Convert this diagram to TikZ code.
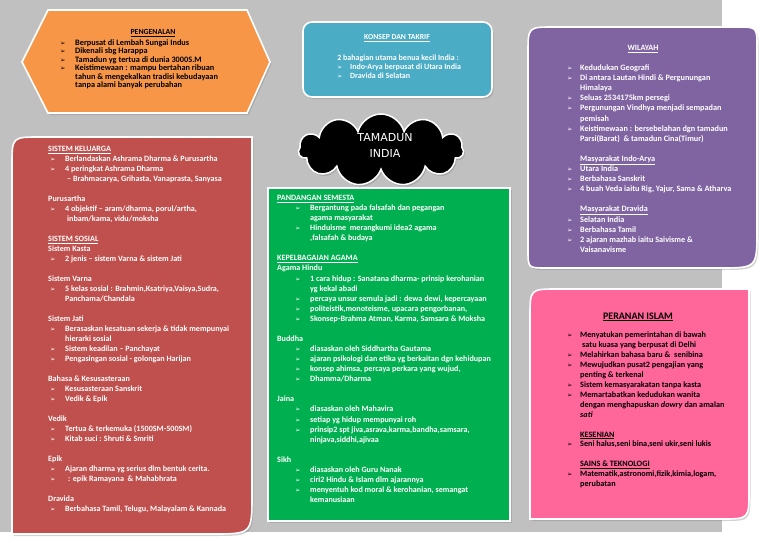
\documentclass[tikz,border=0pt]{standalone}
\usepackage{fontspec}
\setmainfont{Carlito}
\newfontfamily\djv{DejaVu Sans}
\usetikzlibrary{shapes.symbols,shadows}
\definecolor{bgc}{HTML}{C0C0C0}
\definecolor{orng}{HTML}{F79646}
\definecolor{blu}{HTML}{4BACC6}
\definecolor{purp}{HTML}{8064A2}
\definecolor{redb}{HTML}{C0504D}
\definecolor{grn}{HTML}{00B050}
\definecolor{pnk}{HTML}{FF6699}
\newlength\bo \newlength\bt
\newcommand\arw{{\djv\fontsize{6.5}{6.5}\selectfont ➢}}
\newcommand\itm[1]{\par\noindent\hangindent=\bt\hangafter=1\makebox[\bt][l]{\hspace*{\bo}\arw}#1}
\newcommand\hd[1]{\par\noindent#1}
\newcommand\gp{\par\noindent\mbox{}}
\newcommand\tb[4]{\parbox[t]{#1}{\raggedright\let\\\newline\setlength\bo{#2}\setlength\bt{#3}#4}}
\tikzset{
  panel/.style={draw=white, line width=1.6pt, drop shadow={opacity=0.35, shadow xshift=1.5pt, shadow yshift=-2pt}},
  txt/.style={anchor=base west, inner sep=0pt},
  hdr/.style={anchor=base, inner sep=0pt},
}
\begin{document}
\begin{tikzpicture}[x=1pt,y=-1pt]
\useasboundingbox (0,0) rectangle (768,543);
\fill[white] (0,0) rectangle (768,543);
\fill[bgc] (0,0) rectangle (722,532);

% ---------- orange hexagon ----------
\path[panel, fill=orng] (22,62) -- (48,10) -- (247,10) -- (270,62) -- (247,113) -- (48,113) -- cycle;
\node[hdr, font=\bfseries\fontsize{7.8}{8.4}\selectfont] (pengh) at (153,34.5) {\underline{PENGENALAN}};
\node[txt, font=\bfseries\fontsize{8.3}{8.4}\selectfont] (peng) at (60,45.5) {\tb{200pt}{0pt}{15pt}{%
\itm{Berpusat di Lembah Sungai Indus}
\itm{Dikenali sbg Harappa}
\itm{Tamadun yg tertua di dunia 3000S.M}
\itm{Keistimewaan : mampu bertahan ribuan\\tahun \& mengekalkan tradisi kebudayaan\\tanpa alami banyak perubahan}}};

% ---------- blue box ----------
\path[panel, fill=blu, rounded corners=9] (303,22) rectangle (492,97);
\node[hdr, text=white, font=\bfseries\fontsize{7.7}{9}\selectfont] (konh) at (397,39.5) {\underline{KONSEP DAN TAKRIF}};
\node[hdr, text=white, font=\bfseries\fontsize{8}{9}\selectfont] (kon1) at (398,60.5) {2 bahagian utama benua kecil India :};
\node[txt, text=white, font=\bfseries\fontsize{8}{9}\selectfont] (kon2) at (337,69.5) {\tb{150pt}{0pt}{13pt}{%
\itm{Indo-Arya berpusat di Utara India}
\itm{Dravida di Selatan}}};

% ---------- purple box ----------
\path[panel, fill=purp] (528,53) .. controls (528,27) .. (554,27) -- (737,27) .. controls (757,27) .. (757,47) -- (757,230) .. controls (757,268) .. (719,268) -- (546,268) .. controls (528,268) .. (528,250) -- cycle;
\node[hdr, text=white, font=\bfseries\fontsize{8.1}{10.1}\selectfont] (wilh) at (643,50.5) {\underline{WILAYAH}};
\node[txt, text=white, font=\bfseries\fontsize{8.2}{10.1}\selectfont] (wil) at (567,70.5) {\tb{190pt}{0pt}{13pt}{%
\itm{Kedudukan Geografi}
\itm{Di antara Lautan Hindi \& Pergunungan\\Himalaya}
\itm{Seluas 2534175km persegi}
\itm{Pergunungan Vindhya menjadi sempadan\\pemisah}
\itm{Keistimewaan : bersebelahan dgn tamadun\\Parsi(Barat)~ \& tamadun Cina(Timur)}
\gp
\hd{\hspace*{\bt}\underline{Masyarakat Indo-Arya}}
\itm{Utara India}
\itm{Berbahasa Sanskrit}
\itm{4 buah Veda iaitu Rig, Yajur, Sama \& Atharva}
\gp
\hd{\hspace*{\bt}\underline{Masyarakat Dravida}}
\itm{Selatan India}
\itm{Berbahasa Tamil}
\itm{2 ajaran mazhab iaitu Saivisme \&\\Vaisanavisme}}};

% ---------- red box ----------
\path[panel, fill=redb] (12,165) .. controls (12,137) .. (40,137) -- (252,137) -- (252,494) .. controls (252,534) .. (212,534) -- (12,534) -- cycle;
\node[txt, text=white, font=\bfseries\fontsize{8.1}{10}\selectfont] (sis) at (48,151.5) {\tb{205pt}{2pt}{17pt}{%
\hd{\underline{SISTEM KELUARGA}}
\itm{Berlandaskan Ashrama Dharma \& Purusartha}
\itm{4 peringkat Ashrama Dharma\\\hspace*{2pt}– Brahmacarya, Grihasta, Vanaprasta, Sanyasa}
\gp
\hd{Purusartha}
\itm{4 objektif – aram/dharma, porul/artha,\\\hspace*{2pt}inbam/kama, vidu/moksha}
\gp
\hd{\underline{SISTEM SOSIAL}}
\hd{Sistem Kasta}
\itm{2 jenis – sistem Varna \& sistem Jati}
\gp
\hd{Sistem Varna}
\itm{5 kelas sosial : Brahmin,Ksatriya,Vaisya,Sudra,\\Panchama/Chandala}
\gp
\hd{Sistem Jati}
\itm{Berasaskan kesatuan sekerja \& tidak mempunyai\\hierarki sosial}
\itm{Sistem keadilan – Panchayat}
\itm{Pengasingan sosial - golongan Harijan}
\gp
\hd{Bahasa \& Kesusasteraan}
\itm{Kesusasteraan Sanskrit}
\itm{Vedik \& Epik}
\gp
\hd{Vedik}
\itm{Tertua \& terkemuka (1500SM-500SM)}
\itm{Kitab suci : Shruti \& Smriti}
\gp
\hd{Epik}
\itm{Ajaran dharma yg serius dlm bentuk cerita.}
\itm{\hspace*{3pt}: epik Ramayana~ \& Mahabhrata}
\gp
\hd{Dravida}
\itm{Berbahasa Tamil, Telugu, Malayalam \& Kannada}}};

% ---------- green box ----------
\path[panel, fill=grn] (268,188) rectangle (510,521);
\node[txt, text=white, font=\bfseries\fontsize{8.1}{10.07}\selectfont] (pan) at (277,200.5) {\tb{232pt}{18pt}{33pt}{%
\hd{\underline{PANDANGAN SEMESTA}}
\itm{Bergantung pada falsafah dan pegangan\\agama masyarakat}
\itm{Hinduisme~ merangkumi idea2 agama\\,falsafah \& budaya}
\gp
\hd{\underline{KEPELBAGAIAN AGAMA}}
\hd{Agama Hindu}
\itm{1 cara hidup : Sanatana dharma- prinsip kerohanian\\yg kekal abadi}
\itm{percaya unsur semula jadi : dewa dewi, kepercayaan}
\itm{politeistik,monoteisme, upacara pengorbanan,}
\itm{Skonsep-Brahma Atman, Karma, Samsara \& Moksha}
\gp
\hd{Buddha}
\itm{diasaskan oleh Siddhartha Gautama}
\itm{ajaran psikologi dan etika yg berkaitan dgn kehidupan}
\itm{konsep ahimsa, percaya perkara yang wujud,}
\itm{Dhamma/Dharma}
\gp
\hd{Jaina}
\itm{diasaskan oleh Mahavira}
\itm{setiap yg hidup mempunyai roh}
\itm{prinsip2 spt jiva,asrava,karma,bandha,samsara,\\ninjava,siddhi,ajivaa}
\gp
\hd{Sikh}
\itm{diasaskan oleh Guru Nanak}
\itm{ciri2 Hindu \& Islam dlm ajarannya}
\itm{menyentuh kod moral \& kerohanian, semangat\\kemanusiaan}}};

% ---------- pink box ----------
\path[panel, fill=pnk] (530,317) .. controls (530,289) .. (558,289) -- (749,289) -- (749,491) .. controls (749,519) .. (721,519) -- (530,519) -- cycle;
\node[hdr, font=\bfseries\fontsize{10}{10}\selectfont] (isl) at (638,319) {\underline{PERANAN ISLAM}};
\node[txt, font=\bfseries\fontsize{8.2}{9.95}\selectfont] (islb) at (567,337.5) {\tb{180pt}{0pt}{13pt}{%
\itm{Menyatukan pemerintahan di bawah\\\hspace*{2pt}satu kuasa yang berpusat di Delhi}
\itm{Melahirkan bahasa baru \&~ senibina}
\itm{Mewujudkan pusat2 pengajian yang\\penting \& terkenal}
\itm{Sistem kemasyarakatan tanpa kasta}
\itm{Memartabatkan kedudukan wanita\\dengan menghapuskan \textit{dowry} dan amalan\\\textit{sati}}
\gp
\hd{\hspace*{\bt}\underline{KESENIAN}}
\itm{Seni halus,seni bina,seni ukir,seni lukis}
\gp
\hd{\hspace*{\bt}\underline{SAINS \& TEKNOLOGI}}
\itm{Matematik,astronomi,fizik,kimia,logam,\\perubatan}}};

% ---------- cloud ----------
\node[cloud, cloud puffs=11, aspect=2.3, draw=white, line width=1.5pt, fill=black, minimum width=165pt, minimum height=72pt, drop shadow={opacity=0.35, shadow xshift=1.5pt, shadow yshift=-2pt}] (cloud) at (381,150) {};
\node[text=white, align=center, inner sep=0pt, font=\djv\fontsize{11}{16}\selectfont] (title) at (385,145) {TAMADUN\\INDIA};
\end{tikzpicture}
\end{document}
